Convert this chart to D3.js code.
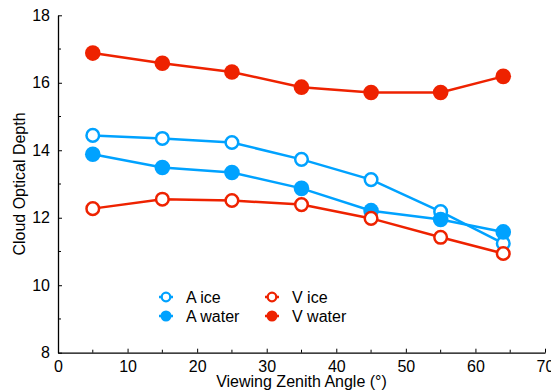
<!DOCTYPE html>
<html>
<head>
<meta charset="utf-8">
<script src="https://cdn.jsdelivr.net/npm/d3@7"></script>
<style>
  body { margin: 0; background: #fff; }
  text { font-family: "Liberation Sans", Arial, Helvetica, sans-serif; }
</style>
</head>
<body>
<div id="chart"></div>
<script>
var angles = [5, 15, 25, 35, 45, 55, 64];
var aIce = [14.44, 14.35, 14.23, 13.73, 13.13, 12.18, 11.24];
var aWater = [13.88, 13.49, 13.34, 12.87, 12.21, 11.95, 11.58];
var vIce = [12.27, 12.55, 12.51, 12.39, 11.98, 11.42, 10.94];
var vWater = [16.88, 16.58, 16.32, 15.87, 15.71, 15.71, 16.19];

var xTicks = [0, 10, 20, 30, 40, 50, 60, 70];
var yTicks = [8, 10, 12, 14, 16, 18];

var blue = '#00a2ff';
var red = '#ee2200';

var series = [
    {name: 'A ice', values: aIce, color: blue, filled: false},
    {name: 'A water', values: aWater, color: blue, filled: true},
    {name: 'V ice', values: vIce, color: red, filled: false},
    {name: 'V water', values: vWater, color: red, filled: true}
];

function drawChart() {
    var width = 551;
    var height = 391;
    var margin = {left: 58, right: 6, top: 15, bottom: 39};

    var svg = d3.select('#chart')
      .append('svg')
        .attr('width', width)
        .attr('height', height);

    var x = d3.scaleLinear()
        .domain([0, 70])
        .range([margin.left, width - margin.right]);

    var y = d3.scaleLinear()
        .domain([8, 18])
        .range([height - margin.bottom + 0.7, margin.top + 0.3]);

    // minor ticks
    var xMinor = d3.range(5, 70, 10);
    var yMinor = d3.range(9, 18, 2);

    var axes = svg.append('g');

    axes.selectAll('.xminor')
      .data(xMinor)
      .enter()
      .append('line')
        .attr('x1', d => x(d)).attr('x2', d => x(d))
        .attr('y1', y(8)).attr('y2', y(8) - 3)
        .attr('stroke', '#000').attr('stroke-width', 1);

    axes.selectAll('.yminor')
      .data(yMinor)
      .enter()
      .append('line')
        .attr('x1', x(0)).attr('x2', x(0) + 3)
        .attr('y1', d => y(d)).attr('y2', d => y(d))
        .attr('stroke', '#000').attr('stroke-width', 1);

    var xAxis = axes.append('g')
        .attr('transform', `translate(0,${y(8)})`)
        .call(d3.axisBottom(x).tickValues(xTicks).tickSizeInner(-4).tickSizeOuter(0).tickPadding(7));

    var yAxis = axes.append('g')
        .attr('transform', `translate(${x(0)},0)`)
        .call(d3.axisLeft(y).tickValues(yTicks).tickSizeInner(-4).tickSizeOuter(0).tickPadding(8));

    [xAxis, yAxis].forEach(a => {
        a.select('.domain').attr('stroke', '#000').attr('stroke-width', 1.3);
        a.selectAll('.tick line').attr('stroke', '#000').attr('stroke-width', 1);
        a.selectAll('.tick text')
            .attr('font-size', '16px')
            .attr('fill', '#000')
            .style('font-family', '"Liberation Sans", Arial, sans-serif');
    });
    xAxis.selectAll('.tick text').attr('dy', '0.75em');

    svg.append('text')
        .attr('x', (x(0) + x(70)) / 2 + 0)
        .attr('y', 387)
        .attr('text-anchor', 'middle')
        .attr('font-size', '16px')
        .text('Viewing Zenith Angle (°)');

    svg.append('text')
        .attr('transform', `translate(25,${(y(8) + y(18)) / 2}) rotate(-90)`)
        .attr('text-anchor', 'middle')
        .attr('font-size', '16px')
        .text('Cloud Optical Depth');

    var line = d3.line()
        .x((d, i) => x(angles[i]))
        .y(d => y(d));

    var g = svg.append('g');

    series.forEach(s => {
        g.append('path')
            .datum(s.values)
            .attr('fill', 'none')
            .attr('stroke', s.color)
            .attr('stroke-width', 2.5)
            .attr('d', line);
    });

    series.forEach(s => {
        g.selectAll(null)
          .data(s.values)
          .enter()
          .append('circle')
            .attr('cx', (d, i) => x(angles[i]))
            .attr('cy', d => y(d))
            .attr('r', s.filled ? 7.8 : 6.3)
            .attr('fill', s.filled ? s.color : '#fff')
            .attr('stroke', s.color)
            .attr('stroke-width', s.filled ? 0 : 2.5);
    });

    // legend
    var legendPos = [[166, 297], [166, 316], [272, 297], [272, 316]];
    var legend = svg.append('g');
    series.forEach((s, i) => {
        var p = legendPos[i];
        legend.append('line')
            .attr('x1', p[0] - 7).attr('x2', p[0] + 7)
            .attr('y1', p[1]).attr('y2', p[1])
            .attr('stroke', s.color).attr('stroke-width', 2.5);
        legend.append('circle')
            .attr('cx', p[0]).attr('cy', p[1])
            .attr('r', s.filled ? 5.5 : 4.3)
            .attr('fill', s.filled ? s.color : '#fff')
            .attr('stroke', s.color)
            .attr('stroke-width', s.filled ? 0 : 2.3);
        legend.append('text')
            .attr('x', p[0] + 20).attr('y', p[1])
            .attr('dy', '0.35em')
            .attr('font-size', '16px')
            .text(s.name);
    });
}

drawChart();
</script>
</body>
</html>
